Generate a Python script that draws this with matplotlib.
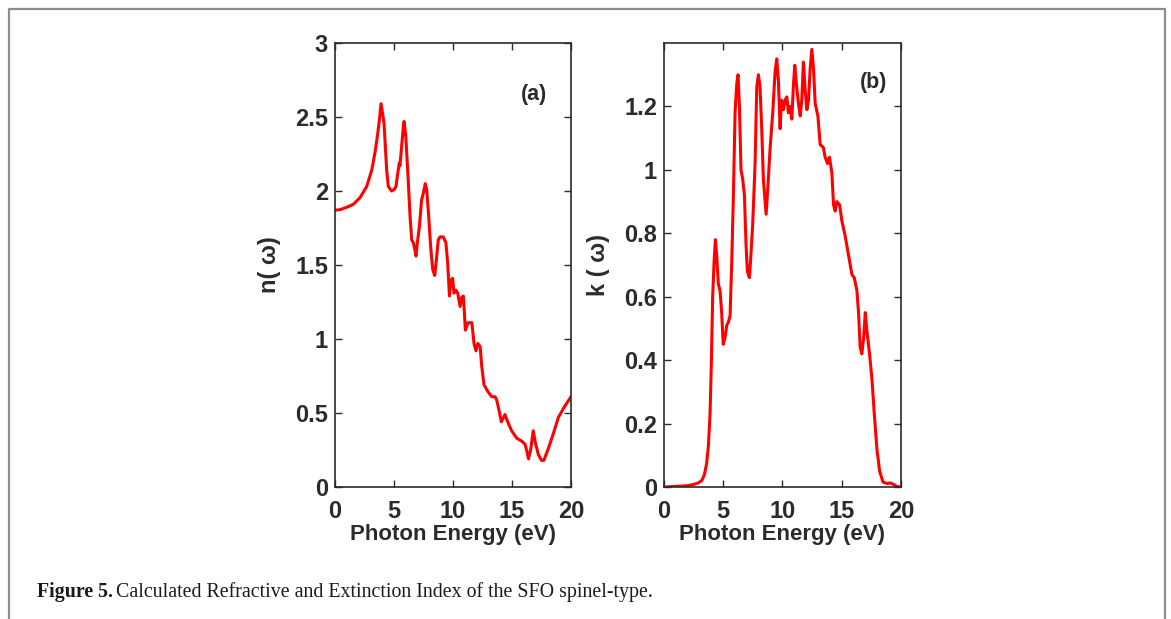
import numpy as np
import matplotlib
matplotlib.use('Agg')
import matplotlib.pyplot as plt

# refractive index n(w)
n_energy = [0, 0.42, 0.99, 1.55, 2.12, 2.68, 3.11, 3.39, 3.59, 3.76, 3.9, 4.15, 4.38, 4.52, 4.8, 5.0,
            5.17, 5.28, 5.45, 5.5, 5.8, 5.85, 6.0, 6.2, 6.36, 6.5, 6.64, 6.78, 6.86, 6.98, 7.15,
            7.34, 7.5, 7.65, 7.77, 7.94, 8.1, 8.28, 8.45, 8.6, 8.75, 8.9, 9.18, 9.4, 9.55, 9.7,
            9.83, 9.97, 10.08, 10.25, 10.4, 10.6, 10.73, 10.88, 11.05, 11.27, 11.6, 11.78, 11.95,
            12.1, 12.3, 12.43, 12.63, 13.0, 13.28, 13.56, 13.7, 13.9, 14.1, 14.4, 14.69, 14.97,
            15.4, 15.82, 16.1, 16.3, 16.4, 16.58, 16.8, 16.98, 17.23, 17.5, 17.7, 18.08, 18.5,
            18.93, 19.35, 20.0]
n_values = [1.87, 1.874, 1.89, 1.91, 1.955, 2.03, 2.14, 2.26, 2.37, 2.48, 2.59, 2.46, 2.14, 2.03, 2.0, 2.01,
            2.03, 2.1, 2.19, 2.17, 2.44, 2.47, 2.37, 2.08, 1.83, 1.67, 1.65, 1.60, 1.56, 1.65, 1.76,
            1.94, 1.99, 2.05, 2.01, 1.83, 1.63, 1.47, 1.43, 1.54, 1.67, 1.69, 1.69, 1.65, 1.51, 1.29,
            1.40, 1.41, 1.31, 1.33, 1.31, 1.22, 1.28, 1.29, 1.06, 1.11, 1.11, 0.97, 0.92,
            0.97, 0.95, 0.82, 0.69, 0.64, 0.61, 0.61, 0.59, 0.52, 0.44, 0.49, 0.43, 0.38,
            0.33, 0.31, 0.29, 0.23, 0.19, 0.25, 0.38, 0.30, 0.22, 0.18, 0.18, 0.26, 0.36,
            0.47, 0.53, 0.61]

# extinction coefficient k(w)
k_energy = [0, 1.07, 1.9, 2.5, 2.9, 3.18, 3.4, 3.6, 3.75, 3.89, 4.0, 4.11, 4.23, 4.34, 4.45, 4.59,
            4.73, 4.87, 5.0, 5.15, 5.3, 5.44, 5.58, 5.72, 5.86, 6.0, 6.14, 6.25, 6.37, 6.5, 6.65,
            6.79, 6.93, 7.04, 7.21, 7.32, 7.49, 7.69, 7.83, 7.97, 8.11, 8.25, 8.39, 8.62, 8.76,
            8.96, 9.18, 9.38, 9.52, 9.66, 9.8, 9.92, 10.08, 10.22, 10.37, 10.5, 10.65, 10.79,
            10.93, 11.04, 11.2, 11.35, 11.5, 11.63, 11.77, 11.92, 12.06, 12.2, 12.34, 12.48,
            12.62, 12.76, 12.99, 13.18, 13.46, 13.6, 13.8, 13.97, 14.17, 14.31, 14.45, 14.59,
            14.82, 15.01, 15.3, 15.58, 15.86, 16.06, 16.28, 16.42, 16.56, 16.7, 16.85, 16.99,
            17.13, 17.35, 17.55, 17.75, 17.97, 18.2, 18.48, 18.82, 19.1, 19.38, 19.66, 20.0]
k_values = [0, 0.002, 0.004, 0.008, 0.013, 0.02, 0.037, 0.074, 0.13, 0.23, 0.39, 0.60, 0.71, 0.78, 0.73, 0.64,
            0.62, 0.55, 0.45, 0.47, 0.51, 0.52, 0.54, 0.71, 0.92, 1.18, 1.27, 1.30, 1.20, 1.0, 0.97,
            0.92, 0.76, 0.68, 0.66, 0.72, 0.83, 1.02, 1.26, 1.30, 1.26, 1.13, 0.97, 0.86, 0.94,
            1.07, 1.18, 1.31, 1.35, 1.28, 1.13, 1.22, 1.19, 1.22, 1.23, 1.18, 1.2, 1.16,
            1.27, 1.33, 1.26, 1.21, 1.17, 1.22, 1.34, 1.25, 1.19, 1.22, 1.32, 1.38,
            1.32, 1.21, 1.17, 1.08, 1.07, 1.04, 1.02, 1.04, 0.99, 0.89, 0.87, 0.90,
            0.89, 0.84, 0.79, 0.73, 0.67, 0.66, 0.62, 0.55, 0.44, 0.42, 0.47, 0.55,
            0.49, 0.42, 0.34, 0.23, 0.12, 0.05, 0.016, 0.011, 0.013, 0.008, 0.002, 0]

x_ticks = [0, 5, 10, 15, 20]
n_ticks = [0, 0.5, 1, 1.5, 2, 2.5, 3]
n_ticklabels = ['0', '0.5', '1', '1.5', '2', '2.5', '3']
k_ticks = [0, 0.2, 0.4, 0.6, 0.8, 1, 1.2]
k_ticklabels = ['0', '0.2', '0.4', '0.6', '0.8', '1', '1.2']

plt.rcParams['font.family'] = ['Liberation Sans', 'DejaVu Sans']
txt = '#2b2b2b'

fig = plt.figure(figsize=(11.71, 6.19), dpi=100)
ax1 = fig.add_axes([0.2861, 0.2132, 0.2015, 0.7173])
ax2 = fig.add_axes([0.5670, 0.2132, 0.2024, 0.7173])

panels = [
    (ax1, n_energy, n_values, n_ticks, n_ticklabels, (0, 3), 'n( ω)', '(a)', (16.9, 2.65)),
    (ax2, k_energy, k_values, k_ticks, k_ticklabels, (0, 1.4), 'k ( ω)', '(b)', (17.7, 1.277)),
]
for ax, x, y, yt, ytl, ylim, ylab, tag, tagpos in panels:
    ax.plot(x, y, color='#ff0000', lw=2.2, solid_joinstyle='round')
    ax.set_xlim(0, 20)
    ax.set_ylim(*ylim)
    ax.set_xticks(x_ticks)
    ax.set_xticklabels([str(t) for t in x_ticks], fontsize=17, fontweight='bold', color=txt)
    ax.set_yticks(yt)
    ax.set_yticklabels(ytl, fontsize=17, fontweight='bold', color=txt)
    ax.tick_params(direction='in', length=5, width=1, top=True, right=True, colors=txt)
    ax.tick_params(axis='x', pad=9)
    ax.tick_params(axis='y', pad=5)
    for s in ax.spines.values():
        s.set_linewidth(1.2)
        s.set_color(txt)
    ax.set_xlabel('Photon Energy (eV)', fontsize=16, fontweight='bold', color=txt, labelpad=1)
    ax.set_ylabel(ylab, fontsize=17, fontweight='bold', color=txt, labelpad=10)
    ax.text(tagpos[0], tagpos[1], tag, fontsize=15.5, fontweight='bold', color=txt,
            ha='center', va='center')

# grey frame around the figure (open at the bottom, as cropped)
fig.add_artist(plt.Line2D([0.0073, 0.0073, 0.9949, 0.9949], [0.0, 0.9855, 0.9855, 0.0],
                          transform=fig.transFigure, color='#8c8c8c', lw=1.6))

serif = ['Liberation Serif', 'DejaVu Serif']
fig.text(0.0316, 0.036, 'Figure 5.', fontsize=14.3, fontweight='bold',
         family=serif, color='#1a1a1a', va='baseline')
fig.text(0.099, 0.036, 'Calculated Refractive and Extinction Index of the SFO spinel-type.',
         fontsize=14.3, family=serif, color='#1a1a1a', va='baseline')

fig.savefig('out.png', dpi=100)
